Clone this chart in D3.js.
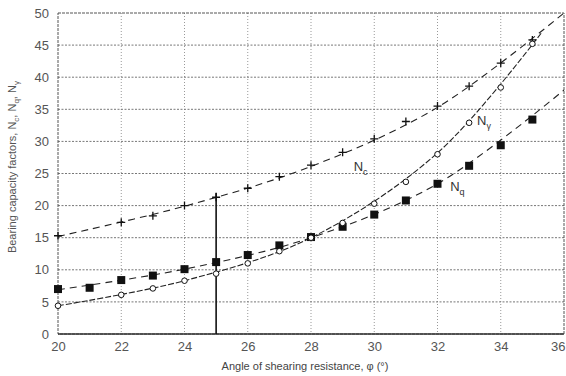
<!DOCTYPE html>
<html>
<head>
<meta charset="utf-8">
<script src="https://cdn.jsdelivr.net/npm/d3@7"></script>
<style>
  body { margin: 0; background: #fff; }
  svg { font-family: "Liberation Sans", Arial, sans-serif; }
</style>
</head>
<body>
<div id="chart"></div>
<script>
const ncPhi = [20, 22, 23, 24, 25, 26, 27, 28, 29, 30, 31, 32, 33, 34, 35];
const ncVals = [15.3, 17.4, 18.4, 20.0, 21.3, 22.7, 24.5, 26.3, 28.3, 30.4, 33.1, 35.5, 38.6, 42.2, 45.8];

const ngPhi = [20, 22, 23, 24, 25, 26, 27, 28, 29, 30, 31, 32, 33, 34, 35];
const ngVals = [4.4, 6.1, 7.1, 8.3, 9.4, 11.0, 12.9, 15.0, 17.3, 20.3, 23.7, 28.0, 32.9, 38.4, 45.2];

const nqPhi = [20, 21, 22, 23, 24, 25, 26, 27, 28, 29, 30, 31, 32, 33, 34, 35];
const nqVals = [7.0, 7.2, 8.4, 9.1, 10.1, 11.2, 12.3, 13.8, 15.1, 16.7, 18.6, 20.8, 23.4, 26.2, 29.4, 33.4];

// fitted trend curves
const ncFitPhi = [20, 24, 28, 32, 36];
const ncFitVals = [15.2, 19.9, 26.1, 35.3, 50.0];
const ngFitPhi = [20, 24, 28, 32, 35.3];
const ngFitVals = [4.4, 8.3, 15.0, 28.2, 47.0];
const nqFitPhi = [20, 24, 28, 32, 36];
const nqFitVals = [6.9, 10.1, 15.0, 23.4, 38.0];

const xTicks = [20, 22, 24, 26, 28, 30, 32, 34, 36];
const yTicks = [0, 5, 10, 15, 20, 25, 30, 35, 40, 45, 50];

const margin = { top: 13, right: 2, bottom: 42, left: 58 },
  width = 566 - margin.left - margin.right,
  height = 376 - margin.top - margin.bottom;

const svg = d3.select('#chart').append('svg')
  .attr('width', 566)
  .attr('height', 376);
const g = svg.append('g')
  .attr('transform', 'translate(' + margin.left + ',' + margin.top + ')');

const x = d3.scaleLinear().domain([20, 36]).range([0, width]);
const y = d3.scaleLinear().domain([0, 50]).range([height, 0]);

// grid
g.append('g').selectAll('line').data(xTicks.slice(1, -1)).enter().append('line')
  .attr('x1', d => x(d)).attr('x2', d => x(d))
  .attr('y1', 0).attr('y2', height)
  .attr('stroke', '#999').attr('stroke-width', 1)
  .attr('stroke-dasharray', '1,2');
g.append('g').selectAll('line').data(yTicks.slice(1, -1)).enter().append('line')
  .attr('y1', d => y(d)).attr('y2', d => y(d))
  .attr('x1', 0).attr('x2', width)
  .attr('stroke', '#777').attr('stroke-width', 1)
  .attr('stroke-dasharray', '2,1.5');

// frame
g.append('rect')
  .attr('width', width).attr('height', height)
  .attr('fill', 'none').attr('stroke', '#555').attr('stroke-width', 1)
  .attr('stroke-dasharray', '3,1');
g.append('line')
  .attr('x1', 0).attr('x2', width).attr('y1', height).attr('y2', height)
  .attr('stroke', '#333').attr('stroke-width', 1.5);

// axes (labels only)
const xAxis = d3.axisBottom(x).tickValues(xTicks).tickSize(0).tickPadding(8);
const yAxis = d3.axisLeft(y).tickValues(yTicks).tickSize(0).tickPadding(9);
const gx = g.append('g').attr('transform', 'translate(0,' + height + ')').call(xAxis);
const gy = g.append('g').call(yAxis);
[gx, gy].forEach(a => {
  a.select('.domain').remove();
  a.selectAll('text').attr('font-size', 13).attr('fill', '#555')
    .attr('font-family', '"Liberation Sans", Arial, sans-serif');
});
// last x label would run off the page
gx.selectAll('text').filter(d => d === 36).attr('text-anchor', 'end').attr('dx', 1);

// axis titles
svg.append('text')
  .attr('x', margin.left + x(28) - 6).attr('y', 370)
  .attr('text-anchor', 'middle').attr('font-size', 11).attr('fill', '#444')
  .text('Angle of shearing resistance, φ (°)');
const yl = svg.append('text')
  .attr('transform', 'translate(16,' + (margin.top + y(26)) + ') rotate(-90)')
  .attr('text-anchor', 'middle').attr('font-size', 11).attr('fill', '#555');
yl.append('tspan').text('Bearing capacity factors, N');
yl.append('tspan').attr('font-size', 8).attr('dy', 3).text('c');
yl.append('tspan').attr('dy', -3).text(', N');
yl.append('tspan').attr('font-size', 8).attr('dy', 3).text('q');
yl.append('tspan').attr('dy', -3).text(', N');
yl.append('tspan').attr('font-size', 8).attr('dy', 3).text('γ');

// design line at phi = 25
g.append('line')
  .attr('x1', x(25)).attr('x2', x(25))
  .attr('y1', y(0)).attr('y2', y(22))
  .attr('stroke', '#111').attr('stroke-width', 1.6);

// fitted curves
const line = d3.line().curve(d3.curveCatmullRom).x(d => x(d[0])).y(d => y(d[1]));
const zip = (a, b) => a.map((v, i) => [v, b[i]]);
g.append('path').attr('d', line(zip(ncFitPhi, ncFitVals)))
  .attr('fill', 'none').attr('stroke', '#222').attr('stroke-width', 1.1)
  .attr('stroke-dasharray', '7,5');
g.append('path').attr('d', line(zip(ngFitPhi, ngFitVals)))
  .attr('fill', 'none').attr('stroke', '#222').attr('stroke-width', 1.1)
  .attr('stroke-dasharray', '6,2');
g.append('path').attr('d', line(zip(nqFitPhi, nqFitVals)))
  .attr('fill', 'none').attr('stroke', '#222').attr('stroke-width', 1.1)
  .attr('stroke-dasharray', '7,5');

// Nc plus markers
g.append('g').selectAll('path').data(zip(ncPhi, ncVals)).enter().append('path')
  .attr('d', 'M-4,0H4M0,-4V4')
  .attr('transform', d => 'translate(' + x(d[0]) + ',' + y(d[1]) + ')')
  .attr('stroke', '#111').attr('stroke-width', 1.3);

// Nq filled squares
g.append('g').selectAll('rect').data(zip(nqPhi, nqVals)).enter().append('rect')
  .attr('x', d => x(d[0]) - 4).attr('y', d => y(d[1]) - 4)
  .attr('width', 8).attr('height', 8)
  .attr('fill', '#111');

// Ngamma open circles
g.append('g').selectAll('circle').data(zip(ngPhi, ngVals)).enter().append('circle')
  .attr('cx', d => x(d[0])).attr('cy', d => y(d[1]))
  .attr('r', 2.8)
  .attr('fill', '#fff').attr('stroke', '#111').attr('stroke-width', 1);

// curve labels
function label(px, py, sub) {
  const t = g.append('text').attr('x', px).attr('y', py)
    .attr('font-size', 13).attr('fill', '#333');
  t.append('tspan').text('N');
  t.append('tspan').attr('font-size', 9).attr('dy', 4).text(sub);
}
label(x(29.35), y(25.4), 'c');
label(x(33.25), y(32.6), 'γ');
label(x(32.4), y(22.2), 'q');
</script>
</body>
</html>
